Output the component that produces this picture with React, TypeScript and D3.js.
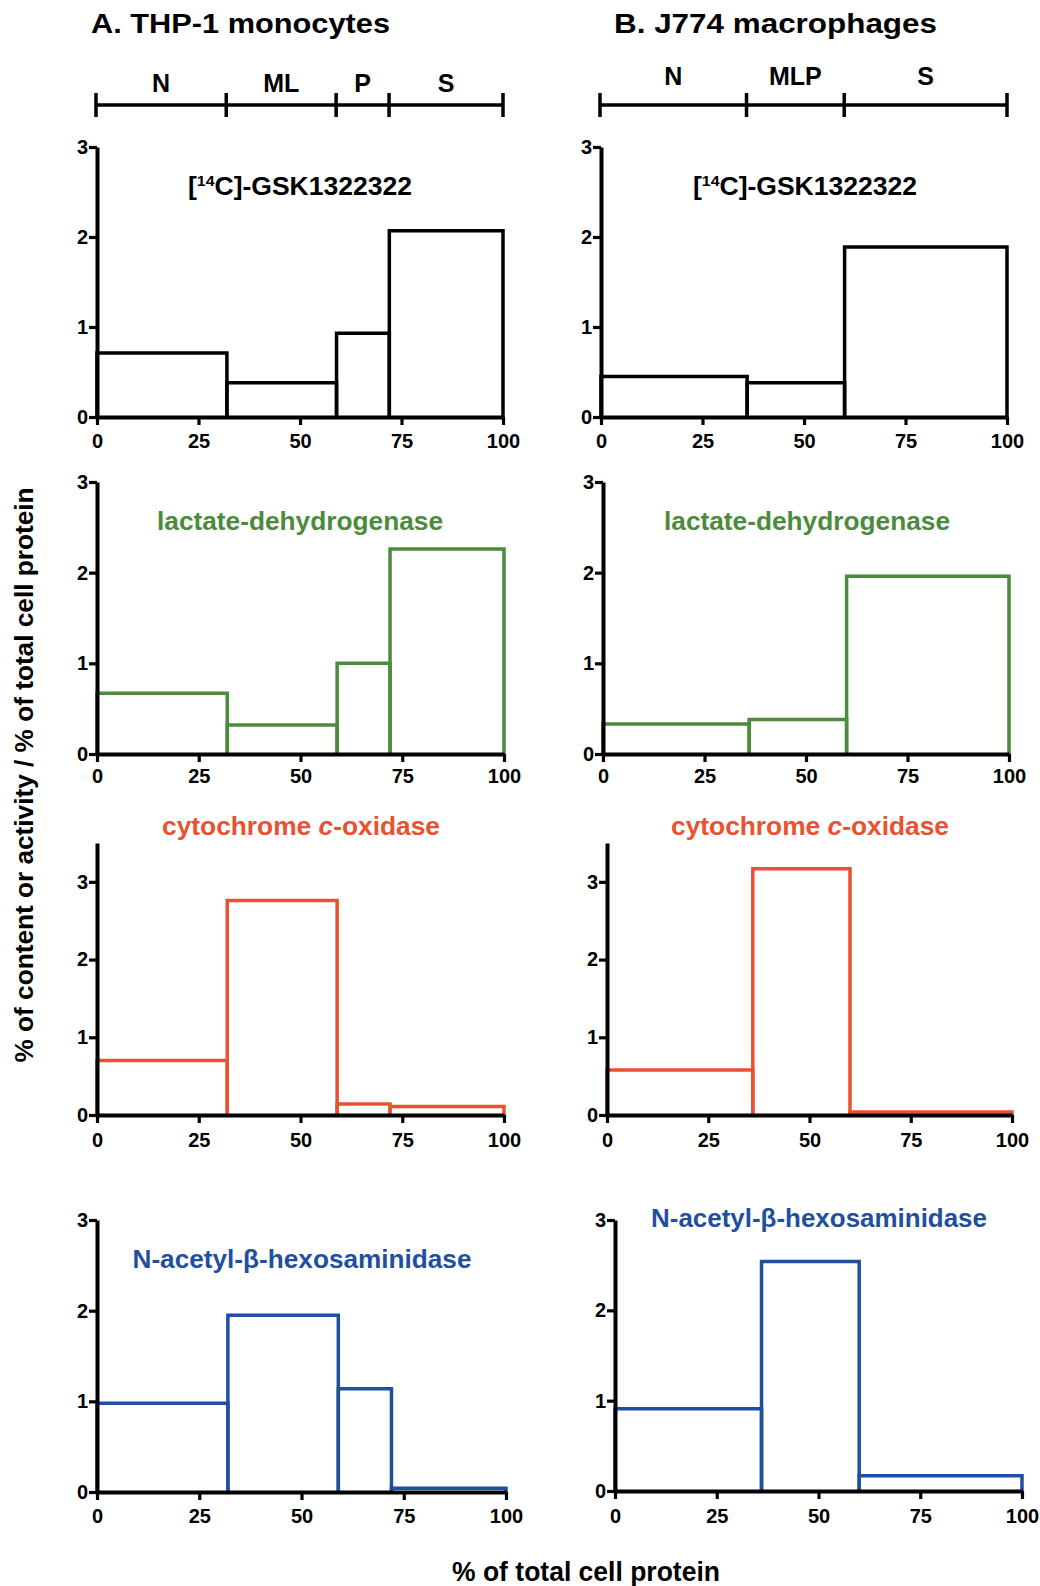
import React, { useEffect, useRef } from "react";
import * as d3 from "d3";

// fraction boundaries (% of total cell protein)
const fractionsA = ["N", "ML", "P", "S"];
const boundsA = [0, 32, 59, 72, 100];
const fractionsB = ["N", "MLP", "S"];
const boundsB = [0, 36, 60, 100];

// relative specific activity per fraction
const gskA = [0.71, 0.38, 0.93, 2.07];
const gskB = [0.45, 0.38, 1.89];
const ldhA = [0.67, 0.32, 1.0, 2.26];
const ldhB = [0.33, 0.38, 1.96];
const ccoA = [0.7, 2.76, 0.14, 0.11];
const ccoB = [0.58, 3.17, 0.04];
const nagA = [0.98, 1.95, 1.14, 0.04];
const nagB = [0.91, 2.54, 0.17];

const xTicks = [0, 25, 50, 75, 100];
const yTicks = [0, 1, 2, 3];

const FONT = "'Liberation Sans', Arial, Helvetica, sans-serif";
const GREEN = "#4b8b3b";
const RED = "#ea5130";
const BLUE = "#1f4f9e";

const App = () => {
    const ref = useRef();

    useEffect(() => {
        const svg = d3.select(ref.current);
        svg.selectAll("*").remove();

        const panels = [
            // row 1
            { bounds: boundsA, values: gskA, color: "#000", x: [97, 503], y: [417, 147], ymax: 3, label: "gsk", lx: 300, ly: 195, lw: 224, tickY: 448 },
            { bounds: boundsB, values: gskB, color: "#000", x: [601, 1007], y: [417, 147], ymax: 3, label: "gsk", lx: 805, ly: 195, lw: 224, tickY: 448 },
            // row 2
            { bounds: boundsA, values: ldhA, color: GREEN, x: [97, 504], y: [754, 482], ymax: 3, label: "ldh", lx: 300, ly: 530, lw: 286, tickY: 783 },
            { bounds: boundsB, values: ldhB, color: GREEN, x: [603, 1009], y: [754, 482], ymax: 3, label: "ldh", lx: 807, ly: 530, lw: 286, tickY: 783 },
            // row 3
            { bounds: boundsA, values: ccoA, color: RED, x: [97, 504], y: [1115, 843], ymax: 3.5, label: "cco", lx: 301, ly: 835, lw: 278, tickY: 1147 },
            { bounds: boundsB, values: ccoB, color: RED, x: [607, 1012], y: [1115, 843], ymax: 3.5, label: "cco", lx: 810, ly: 835, lw: 278, tickY: 1147 },
            // row 4
            { bounds: boundsA, values: nagA, color: BLUE, x: [97, 506], y: [1492, 1220], ymax: 3, label: "nag", lx: 302, ly: 1268, lw: 339, tickY: 1523 },
            { bounds: boundsB, values: nagB, color: BLUE, x: [615, 1022], y: [1491, 1220], ymax: 3, label: "nag", lx: 819, ly: 1227, lw: 336, tickY: 1523 }
        ];

        panels.forEach(p => {
            const x = d3.scaleLinear().domain([0, 100]).range(p.x);
            const y = d3.scaleLinear().domain([0, p.ymax]).range(p.y);
            const g = svg.append("g");

            // step outline of each fraction
            p.values.forEach((v, i) => {
                const a = p.bounds[i], b = p.bounds[i + 1];
                const path = d3.path();
                path.moveTo(x(a), y(0));
                path.lineTo(x(a), y(v));
                path.lineTo(x(b), y(v));
                path.lineTo(x(b), y(0));
                g.append("path")
                    .attr("d", path.toString())
                    .attr("fill", "none")
                    .attr("stroke", p.color)
                    .attr("stroke-width", 3.5);
            });

            const yAxis = g.append("g")
                .attr("transform", `translate(${x(0)},0)`)
                .call(d3.axisLeft(y).tickValues(yTicks).tickSize(8).tickSizeOuter(0).tickPadding(1).tickFormat(d3.format("d")));
            const xAxis = g.append("g")
                .attr("transform", `translate(0,${y(0)})`)
                .call(d3.axisBottom(x).tickValues(xTicks).tickSize(8).tickSizeOuter(0).tickPadding(9).tickFormat(d3.format("d")));

            [yAxis, xAxis].forEach(ax => {
                ax.attr("font-size", null).attr("font-family", null);
                ax.select(".domain").attr("stroke", "#000").attr("stroke-width", 4);
                ax.selectAll(".tick line").attr("stroke", "#000").attr("stroke-width", 3.2);
                ax.selectAll(".tick text")
                    .attr("fill", "#000")
                    .style("font-family", FONT)
                    .style("font-weight", "bold")
                    .style("font-size", "20px");
            });
            xAxis.selectAll(".tick text").attr("dy", null).attr("y", p.tickY - y(0));

            // panel label
            const t = svg.append("text")
                .attr("x", p.lx)
                .attr("y", p.ly)
                .attr("text-anchor", "middle")
                .attr("font-family", FONT)
                .attr("font-weight", "bold")
                .attr("font-size", 25)
                .attr("fill", p.color)
                .attr("textLength", p.lw)
                .attr("lengthAdjust", "spacingAndGlyphs");
            if (p.label === "gsk") {
                t.append("tspan").text("[");
                t.append("tspan").attr("font-size", 15).attr("dy", -9).text("14");
                t.append("tspan").attr("dy", 9).text("C]-GSK1322322");
            } else if (p.label === "ldh") {
                t.text("lactate-dehydrogenase");
            } else if (p.label === "cco") {
                t.append("tspan").text("cytochrome ");
                t.append("tspan").attr("font-style", "italic").text("c");
                t.append("tspan").text("-oxidase");
            } else {
                t.text("N-acetyl-\u03b2-hexosaminidase");
            }
        });

        // fraction bars at top
        const fracBars = [
            { names: fractionsA, bounds: boundsA, x: [96, 503], ly: 92 },
            { names: fractionsB, bounds: boundsB, x: [600, 1007], ly: 85 }
        ];
        fracBars.forEach(f => {
            const x = d3.scaleLinear().domain([0, 100]).range(f.x);
            const g = svg.append("g");
            g.append("line")
                .attr("x1", x(0)).attr("x2", x(100))
                .attr("y1", 105).attr("y2", 105)
                .attr("stroke", "#000").attr("stroke-width", 3.5);
            g.selectAll(".sep")
                .data(f.bounds)
                .enter().append("line")
                .attr("x1", d => x(d)).attr("x2", d => x(d))
                .attr("y1", 93).attr("y2", 117)
                .attr("stroke", "#000").attr("stroke-width", 3.5);
            g.selectAll(".name")
                .data(f.names)
                .enter().append("text")
                .attr("x", (d, i) => (x(f.bounds[i]) + x(f.bounds[i + 1])) / 2)
                .attr("y", f.ly)
                .attr("text-anchor", "middle")
                .attr("font-family", FONT)
                .attr("font-weight", "bold")
                .attr("font-size", 25)
                .text(d => d);
        });

        // column titles
        svg.append("text")
            .attr("x", 91).attr("y", 33)
            .attr("font-family", FONT).attr("font-weight", "bold").attr("font-size", 27)
            .attr("textLength", 299).attr("lengthAdjust", "spacingAndGlyphs")
            .text("A. THP-1 monocytes");
        svg.append("text")
            .attr("x", 614).attr("y", 33)
            .attr("font-family", FONT).attr("font-weight", "bold").attr("font-size", 27)
            .attr("textLength", 323).attr("lengthAdjust", "spacingAndGlyphs")
            .text("B. J774 macrophages");

        // axis titles
        svg.append("text")
            .attr("transform", "translate(33,775) rotate(-90)")
            .attr("text-anchor", "middle")
            .attr("font-family", FONT).attr("font-weight", "bold").attr("font-size", 25)
            .attr("textLength", 575).attr("lengthAdjust", "spacingAndGlyphs")
            .text("% of content or activity / % of total cell protein");
        svg.append("text")
            .attr("x", 586).attr("y", 1581)
            .attr("text-anchor", "middle")
            .attr("font-family", FONT).attr("font-weight", "bold").attr("font-size", 27)
            .attr("textLength", 268).attr("lengthAdjust", "spacingAndGlyphs")
            .text("% of total cell protein");
    }, []);

    return (
        <svg
            ref={ref}
            width={1040}
            height={1586}
            style={{ position: "absolute", left: 0, top: 0, background: "#fff" }}
        />
    );
};

export default App;
